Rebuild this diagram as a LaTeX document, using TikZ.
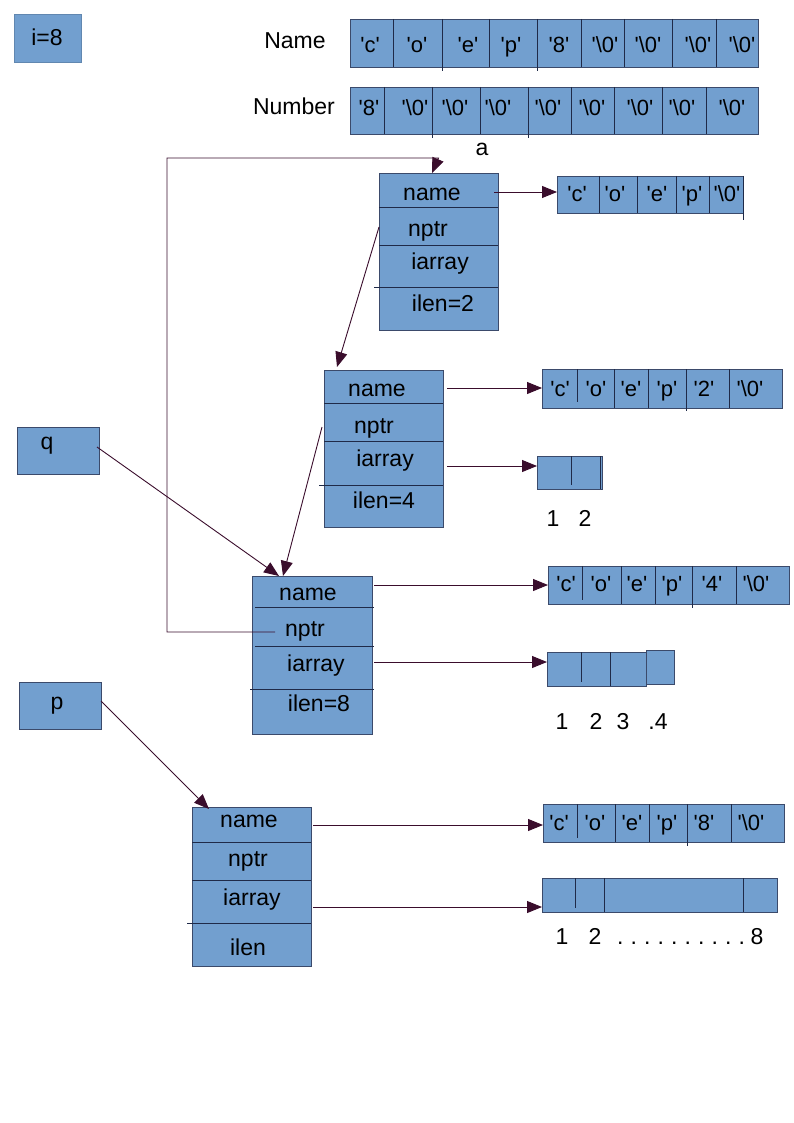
\documentclass[tikz,border=0pt]{standalone}
\usepackage{fontspec}
\setmainfont{Liberation Sans}[Ligatures=TeXOff]
\usetikzlibrary{arrows.meta}
\definecolor{fillb}{HTML}{729FCF}
\definecolor{edge}{HTML}{3B4A6B}
\definecolor{divc}{HTML}{1F2A48}
\definecolor{lnk}{HTML}{3A0D2C}
\newcommand\mybox[6][]{\node[boxst,minimum width={(#5-#3)*1pt},minimum height={(#6-#4)*1pt},#1] (#2) at ({(#3+#5)/2},{(#4+#6)/2}) {};}
\newcommand\nul{'\textbackslash 0'}
\newcommand\dd{.\hspace{7.1pt}}
\begin{document}
\begin{tikzpicture}[x=1pt,y=-1pt,
  boxst/.style={draw=edge, fill=fillb, line width=0.9pt, inner sep=0pt, outer sep=0pt},
  txt/.style={inner sep=0pt, yshift=-3pt, font=\fontsize{23}{26}\selectfont, text height=16pt, text depth=4.6pt},
  ctxt/.style={inner sep=0pt, yshift=-2.5pt, font=\fontsize{22}{25}\selectfont, text height=15.5pt, text depth=4.4pt},
  div/.style={draw=divc, line width=0.9pt},
  link/.style={draw=lnk, line width=0.9pt},
  arr/.style={link, -{Triangle[length=15pt,width=12pt]}}]
\useasboundingbox (0,0) rectangle (794,1123);

% i=8
\mybox[draw=fillb!85!black]{ibox}{14}{14}{81}{62}
\node[txt] (itext) at (47,37) {i=8};

% Name / Number arrays
\node[txt] (namelbl) at (295,40) {Name};
\node[txt] (numlbl) at (294,106) {Number};
\mybox{namearr}{350}{19}{758}{67}
\foreach \x in {393,489,581,624,672,716} \draw[div] (\x,19) -- (\x,67);
\foreach \x in {442,537} \draw[div] (\x,19) -- (\x,71);
\foreach \x/\t [count=\i] in {370/'c',417/'o',468/'e',511/'p',559/'8',605/\nul,648/\nul,698/\nul,742/\nul}
  \node[ctxt] (nm\i) at (\x,44) {\t};
\mybox{numarr}{350}{87}{758}{134}
\foreach \x in {384,480,571,614,662,706} \draw[div] (\x,87) -- (\x,134);
\foreach \x in {432,528} \draw[div] (\x,87) -- (\x,138);
\foreach \x/\t [count=\i] in {369/'8',415/\nul,455/\nul,498/\nul,548/\nul,592/\nul,640/\nul,682/\nul,732/\nul}
  \node[ctxt] (nu\i) at (\x,107) {\t};
\node[txt] (alabel) at (482,147) {a};

% struct 1
\mybox{sa}{379}{173}{498}{330}
\draw[div] (379,207) -- (498,207);
\draw[div] (379,245) -- (498,245);
\draw[div] (374,287) -- (498,287);
\node[txt] (saname) at (432,192) {name};
\node[txt] (sanptr) at (428,228) {nptr};
\node[txt] (saiarr) at (440,261) {iarray};
\node[txt] (sailen) at (443,303) {ilen=2};
\coordinate (sanameout) at (494,192);
\coordinate (sanptrout) at (379,227);
\mybox{arra}{557}{176}{743}{213}
\foreach \x in {599,637,676,709} \draw[div] (\x,176) -- (\x,213);
\draw[div] (743,176) -- (743,220);
\foreach \x/\t [count=\i] in {577/'c',615/'o',657/'e',692/'p',727/\nul}
  \node[ctxt] (ca\i) at (\x,193) {\t};

% struct 2
\mybox{sb}{324}{370}{443}{527}
\draw[div] (324,403) -- (443,403);
\draw[div] (324,441) -- (443,441);
\draw[div] (319,485) -- (443,485);
\node[txt] (sbname) at (377,388) {name};
\node[txt] (sbnptr) at (374,425) {nptr};
\node[txt] (sbiarr) at (385,458) {iarray};
\node[txt] (sbilen) at (384,500) {ilen=4};
\coordinate (sbnameout) at (447,388);
\coordinate (sbiarrout) at (447,466);
\coordinate (sbnptrout) at (322,427);
\mybox{arrb}{542}{369}{782}{408}
\draw[div] (577,369) -- (577,402);
\foreach \x in {614,648,729} \draw[div] (\x,369) -- (\x,408);
\draw[div] (686,369) -- (686,411);
\foreach \x/\t [count=\i] in {560/'c',596/'o',631/'e',667/'p',704/'2',750/\nul}
  \node[ctxt] (cb\i) at (\x,388) {\t};
\mybox{intb}{537}{456}{602}{489}
\draw[div] (571,456) -- (571,485);
\draw[div] (600,456) -- (600,489);
\node[txt] (ib1) at (553,518) {1};
\node[txt] (ib2) at (585,518) {2};

% q
\mybox{qbox}{17}{427}{99}{474}
\node[txt] (qtext) at (47,441) {q};
\coordinate (qout) at (97,447);

% struct 3
\mybox{sc}{252}{576}{372}{734}
\draw[div] (255,607) -- (374,607);
\draw[div] (255,646) -- (374,646);
\draw[div] (250,689) -- (374,689);
\node[txt] (scname) at (308,592) {name};
\node[txt] (scnptr) at (305,628) {nptr};
\node[txt] (sciarr) at (316,663) {iarray};
\node[txt] (scilen) at (319,703) {ilen=8};
\coordinate (scnameout) at (374,585);
\coordinate (sciarrout) at (374,662);
\coordinate (scnptrin) at (275,632);
\mybox{arrc}{548}{566}{789}{604}
\draw[div] (582,566) -- (582,600);
\foreach \x in {621,655,736} \draw[div] (\x,566) -- (\x,604);
\draw[div] (692,566) -- (692,608);
\foreach \x/\t [count=\i] in {566/'c',601/'o',637/'e',672/'p',712/'4',756/\nul}
  \node[ctxt] (cc\i) at (\x,583) {\t};
\mybox{intc}{547}{652}{646}{686}
\mybox{intcx}{646}{650}{674}{684}
\draw[div] (581,652) -- (581,682);
\draw[div] (610,652) -- (610,686);
\node[txt] (ic1) at (562,721) {1};
\node[txt] (ic2) at (596,721) {2};
\node[txt] (ic3) at (623,721) {3};
\node[txt] (ic4) at (658,721) {.4};

% p
\mybox{pbox}{19}{682}{101}{729}
\node[txt] (ptext) at (57,701) {p};
\coordinate (pout) at (101,701);

% struct 4
\mybox{sd}{192}{807}{311}{966}
\draw[div] (192,842) -- (311,842);
\draw[div] (192,880) -- (311,880);
\draw[div] (187,923) -- (311,923);
\node[txt] (sdname) at (249,819) {name};
\node[txt] (sdnptr) at (248,858) {nptr};
\node[txt] (sdiarr) at (252,897) {iarray};
\node[txt] (sdilen) at (248,947) {ilen};
\coordinate (sdnameout) at (313,825);
\coordinate (sdiarrout) at (313,907);
\mybox{arrd}{543}{804}{784}{842}
\draw[div] (577,804) -- (577,838);
\foreach \x in {615,649,731} \draw[div] (\x,804) -- (\x,842);
\draw[div] (687,804) -- (687,846);
\foreach \x/\t [count=\i] in {559/'c',595/'o',632/'e',667/'p',704/'8',751/\nul}
  \node[ctxt] (cd\i) at (\x,822) {\t};
\mybox{intd}{542}{878}{777}{912}
\draw[div] (575,878) -- (575,908);
\foreach \x in {604,743} \draw[div] (\x,878) -- (\x,912);
\node[txt] (id1) at (562,936) {1};
\node[txt] (id2) at (595,936) {2};
\node[txt,anchor=west] (iddots) at (617,936) {\dd\dd\dd\dd\dd\dd\dd\dd\dd.};
\node[txt] (id8) at (757,936) {8};

% connectors
\coordinate (loopa) at (167,632);
\coordinate (loopb) at (167,158);
\draw[arr] (scnptrin) -- (loopa) -- (loopb) -- (loopb -| sa.north) -- ([xshift=-6.5pt]sa.north);
\draw[arr] (sanameout) -- (sanameout -| arra.west);
\draw[arr] (sanptrout) -- ([xshift=-46.5pt,yshift=3pt]sb.north);
\draw[arr] (sbnameout) -- (sbnameout -| arrb.west);
\draw[arr] (sbiarrout) -- (sbiarrout -| intb.west);
\draw[arr] (sbnptrout) -- ([xshift=-29pt]sc.north);
\draw[arr] (qout) -- ([xshift=-33pt]sc.north);
\draw[arr] (scnameout) -- (scnameout -| arrc.west);
\draw[arr] (sciarrout) -- (sciarrout -| intc.west);
\draw[arr] (pout) -- ([xshift=-42.5pt,yshift=-2pt]sd.north);
\draw[arr] (sdnameout) -- (sdnameout -| arrd.west);
\draw[arr] (sdiarrout) -- (sdiarrout -| intd.west);
\end{tikzpicture}
\end{document}
